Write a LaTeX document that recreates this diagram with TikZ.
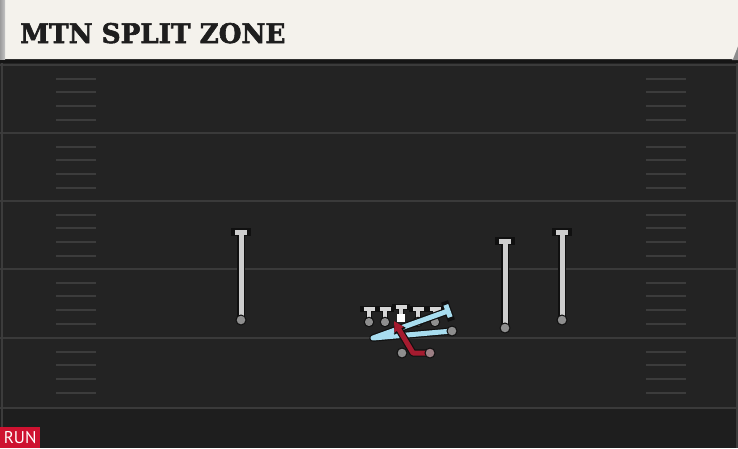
\documentclass[tikz,border=0pt]{standalone}
\usepackage{fontspec}
\newfontfamily\titlefont{DejaVu Serif}[BoldFont={DejaVu Serif Bold}, BoldFeatures={FakeBold=2.2}]
\newfontfamily\badgefont{PT Sans}
\usetikzlibrary{arrows.meta,calc}
\definecolor{fieldbg}{HTML}{232323}
\definecolor{fieldlow}{HTML}{1E1E1E}
\definecolor{yardcol}{HTML}{3A3A3A}
\definecolor{hashcol}{HTML}{3C3C3C}
\definecolor{edgecol}{HTML}{3C3C3C}
\definecolor{shadowcol}{HTML}{151515}
\definecolor{cornergray}{HTML}{8C8C8C}
\definecolor{stripeA}{HTML}{9C9C9C}
\definecolor{stripeB}{HTML}{C4C4C4}
\definecolor{titlecol}{HTML}{1E1E1E}
\definecolor{cream}{HTML}{F4F2EC}
\definecolor{outl}{HTML}{101010}
\definecolor{wrgray}{HTML}{CDCDCD}
\definecolor{olbar}{HTML}{D6D6D6}
\definecolor{dotgray}{HTML}{8E8E8E}
\definecolor{rbdot}{HTML}{9C7F84}
\definecolor{blue1}{HTML}{A8DDEF}
\definecolor{red1}{HTML}{A51B2F}
\definecolor{runred}{HTML}{CE1230}
\tikzset{
  yardline/.style={draw=yardcol, line width=2},
  hashline/.style={draw=hashcol, line width=1.8},
  route/.style={draw=#1, line width=5, line cap=butt, line join=round, preaction={draw=outl, line width=7.4, line cap=rect, line join=round}},
  olroute/.style={draw=#1, line width=4.4, line cap=butt, preaction={draw=outl, line width=6.6, line cap=rect}},
  dot/.style={circle, fill=#1, draw=outl, line width=1, minimum size=10, inner sep=0},
  dot/.default=dotgray
}
\begin{document}
\begin{tikzpicture}[x=1pt,y=-1pt]
\useasboundingbox (0,0) rectangle (738,448);
% field
\fill[fieldbg] (0,0) rectangle (738,448);
\fill[fieldlow] (0,408) rectangle (738,448);
\foreach \y in {65,133,201,269,338,408} \draw[yardline] (0,\y) -- (738,\y);
\foreach \y in {65,133,201,269,338} {
  \foreach \d in {14,27,41,55} {
    \draw[hashline] (56,\y+\d) -- (96,\y+\d);
    \draw[hashline] (646,\y+\d) -- (686,\y+\d);
  }
}
\draw[draw=edgecol, line width=2] (1.5,60) -- (1.5,448);
\draw[draw=edgecol, line width=2] (736.5,60) -- (736.5,448);
% header
\fill[shadowcol] (0,58) rectangle (738,63);
\fill[cornergray] (728,40) -- (738,40) -- (738,60) -- (732,60) -- cycle;
\fill[cream] (0,0) -- (738,0) -- (738,46) -- (733,59) -- (0,59) -- cycle;
\shade[left color=stripeA, right color=stripeB] (0,0) rectangle (5,59);
\node[anchor=base west, inner sep=0, font=\titlefont\bfseries\fontsize{27}{27}\selectfont, text=titlecol, xscale=0.97] (title) at (20,43) {MTN SPLIT ZONE};
% positions
\coordinate (p-lwr) at (241,320);  \coordinate (t-lwr) at (241,232);
\coordinate (p-rwr) at (505,328);  \coordinate (t-rwr) at (505,241);
\coordinate (p-swr) at (562,320);  \coordinate (t-swr) at (562,232);
\coordinate (p-lt) at (369,322);   \coordinate (t-lt) at (369,309);
\coordinate (p-lg) at (385,322);   \coordinate (t-lg) at (385,309);
\coordinate (p-c)  at (401,318);   \coordinate (t-c)  at (401,307);
\coordinate (p-rg) at (418,322);   \coordinate (t-rg) at (418,309);
\coordinate (p-rt) at (435,322);   \coordinate (t-rt) at (435,309);
\coordinate (p-te) at (452,331);
\coordinate (p-vx) at (373,338);
\coordinate (p-bt) at (448,311);
\coordinate (p-qb) at (402,353);
\coordinate (p-rb) at (430,353);
\coordinate (p-rk) at (413,353);
\coordinate (p-rh) at (394,321);
% receiver routes
\foreach \n in {lwr,rwr,swr} {
  \draw[route=wrgray] (p-\n) -- (t-\n) ($(t-\n)+(-6,0)$) -- ($(t-\n)+(6,0)$);
}
% line blocks
\foreach \n in {lt,lg,c,rg,rt} {
  \draw[olroute=olbar] (p-\n) -- (t-\n) ($(t-\n)+(-5.5,0)$) -- ($(t-\n)+(5.5,0)$);
}
\foreach \n in {lt,lg,rg,rt} { \node[dot, minimum size=9.5] (\n) at (p-\n) {}; }
\node[fill=white, minimum size=8.5, inner sep=0] (c) at (p-c) {};
% H-back path
\draw[route=blue1] (p-te) -- (p-vx) -- (p-bt)
  ($(p-bt)!6.5pt!90:(p-vx)$) -- ($(p-bt)!6.5pt!-90:(p-vx)$);
% running back
\draw[draw=outl, line width=7.4, line join=round, -{Triangle[length=12pt,width=12.5pt]}] (p-rb) -- (p-rk) -- (p-rh);
\draw[draw=red1, line width=5, line join=round, -{Triangle[length=10pt,width=10pt]}] (p-rb) -- (p-rk) -- (p-rh);
% players
\foreach \n in {lwr,rwr,swr} { \node[dot] (\n) at (p-\n) {}; }
\node[dot] (te) at (p-te) {};
\node[dot] (qb) at (p-qb) {};
\node[dot=rbdot] (rb) at (p-rb) {};
% badge
\node[anchor=south west, fill=runred, text=white, minimum width=40, minimum height=21, inner sep=0, text height=12, text depth=0, font=\badgefont\fontsize{17}{17}\selectfont] (badge) at (0,448) {RUN};
\end{tikzpicture}
\end{document}
